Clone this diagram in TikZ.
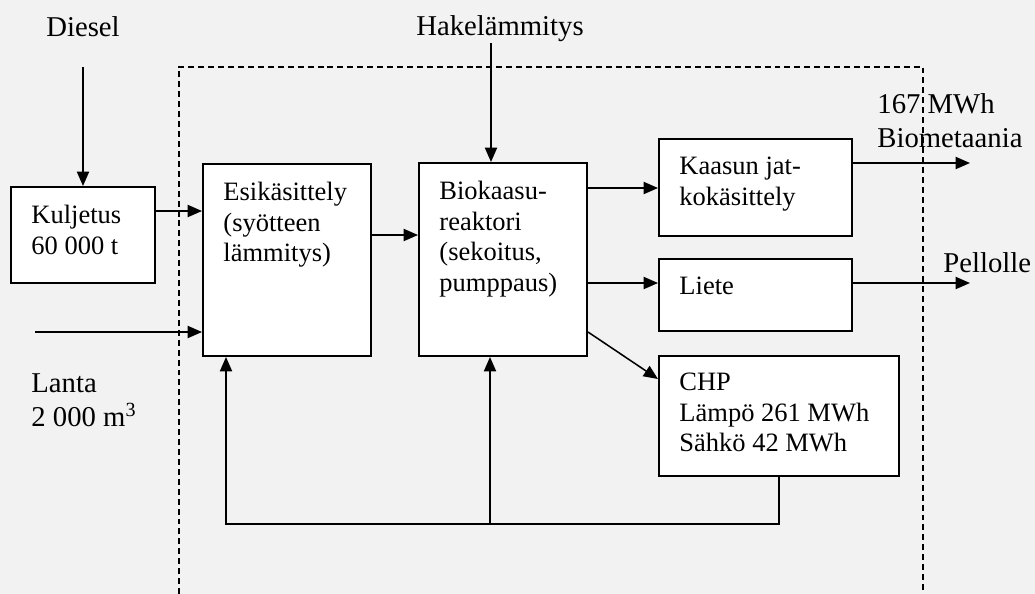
\documentclass[tikz,border=0pt]{standalone}
\usepackage{fontspec}
\setmainfont{Liberation Serif}
\usetikzlibrary{arrows.meta}
\definecolor{bgc}{HTML}{F2F2F2}

\begin{document}
\begin{tikzpicture}[x=0.453pt, y=-0.453pt,
  font=\fontsize{12}{13.8}\selectfont,
  blk/.style={draw, fill=white, line width=0.9pt, inner sep=0pt},
  txt/.style={anchor=north west, align=left, inner sep=0pt},
  outer/.style={inner sep=0pt, font=\fontsize{13}{15.4}\selectfont},
  arr/.style={line width=0.7pt, -{Triangle[length=6.5pt, width=5.5pt]}},
  frame/.style={line width=0.7pt, dash pattern=on 2.7pt off 1.8pt}]
  \path[use as bounding box, fill=bgc] (0,0) rectangle (1035,594);
  \draw[frame] (179,594) -- (179,67) -- (923,67) -- (923,594);
  % boxes: name / left / top / right / bottom
  \foreach \n/\xa/\ya/\xb/\yb in {
      kul/11/187/155/283,
      esik/203/164/371/356,
      bio/419/163/587/356,
      kaa/659/139/852/236,
      lie/659/259/852/331,
      chp/659/356/899/476}
    {\node[blk, minimum width={(\xb-\xa)*0.453pt}, minimum height={(\yb-\ya)*0.453pt}]
       (\n) at ({(\xa+\xb)/2},{(\ya+\yb)/2}) {};}
  \node[txt] (kultxt) at ([shift={(21,19)}]kul.north west) {Kuljetus\\60 000 t};
  \node[txt] (esiktxt) at ([shift={(21,19)}]esik.north west) {Esikäsittely\\(syötteen\\lämmitys)};
  \node[txt] (biotxt) at ([shift={(21,19)}]bio.north west) {Biokaasu-\\reaktori\\(sekoitus,\\pumppaus)};
  \node[txt] (kaatxt) at ([shift={(21,19)}]kaa.north west) {Kaasun jat-\\kokäsittely};
  \node[txt] (lietxt) at ([shift={(21,19)}]lie.north west) {Liete};
  \node[txt] (chptxt) at ([shift={(21,18)}]chp.north west) {CHP\\Lämpö 261 MWh\\Sähkö 42 MWh};
  % outside labels
  \node[outer, anchor=base] (diesel) at (83,36) {Diesel};
  \node[outer, anchor=base] (hake) at (500,35) {Hakelämmitys};
  \node[outer, txt] (lanta) at (31,373) {Lanta\\2 000 m\textsuperscript{3}};
  \node[outer, txt] (biomet) at (877,93) {167 MWh\\Biometaania};
  \node[outer, anchor=base west] (pellolle) at (943,272) {Pellolle};
  \coordinate (dstart) at (83,67);
  \coordinate (lstart) at (35,332);
  \coordinate (hstart) at (491,43);
  \coordinate (gasout) at (970,163);
  \coordinate (lieout) at (970,283);
  \coordinate (fbl) at (226,524);
  \coordinate (fbm) at (490,524);
  % flows
  \draw[arr] (dstart) -- (kul.north);
  \draw[arr] ([shift={(0,-24)}]kul.east) coordinate (k1) -- (k1 -| esik.west);
  \draw[arr] (lstart) -- (lstart -| esik.west);
  \draw[arr] ([shift={(0,-25)}]esik.east) coordinate (e1) -- (e1 -| bio.west);
  \draw[arr] (hstart) -- (hstart |- bio.north);
  \draw[arr] ([shift={(0,-71.5)}]bio.east) coordinate (b1) -- (b1 -| kaa.west);
  \draw[arr] ([shift={(0,23.5)}]bio.east) coordinate (b2) -- (b2 -| lie.west);
  \draw[arr] ([shift={(0,72.5)}]bio.east) -- ([shift={(0,-37)}]chp.west);
  \draw[arr] ([shift={(0,-24.5)}]kaa.east) -- (gasout);
  \draw[arr] ([shift={(0,-12)}]lie.east) -- (lieout);
  % heat back to the start
  \draw[arr] (chp.south) |- (fbl) -- (fbl |- esik.south);
  \draw[arr] (fbm) -- (fbm |- bio.south);
\end{tikzpicture}
\end{document}
